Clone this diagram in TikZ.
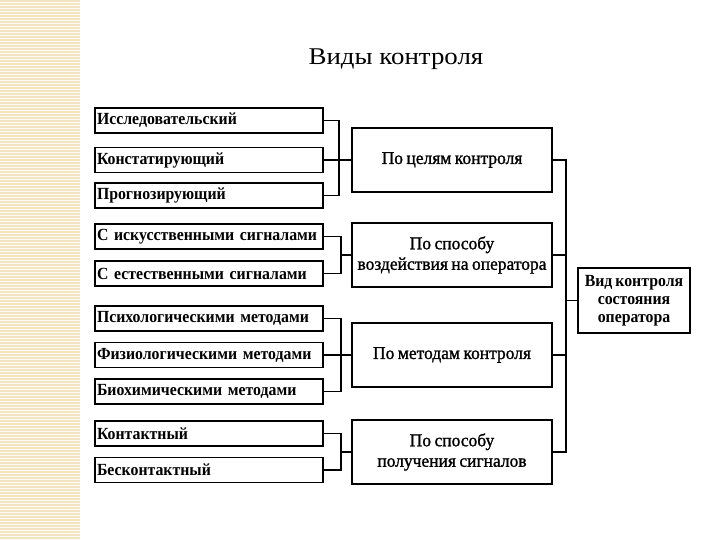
\documentclass[tikz,border=0pt]{standalone}
\usepackage{fontspec}
\setmainfont{Liberation Serif}
\newfontfamily\boxfont{Liberation Serif}[FakeStretch=0.93, WordSpace=0.75]
\newfontfamily\midfont{Liberation Serif}[FakeStretch=0.97, FakeBold=1.2, WordSpace=0.8]
\newfontfamily\titlefont{Liberation Serif}[FakeStretch=1.12]
\usetikzlibrary{patterns}
\definecolor{strip}{HTML}{F2E5C2}
\tikzset{
  leftbox/.style={draw, line width=1.8pt, minimum width=228pt, minimum height=25pt,
    text width=224pt, inner xsep=2pt, align=left, font=\boxfont\bfseries\fontsize{17}{18}\selectfont},
  midbox/.style={draw, line width=1.8pt, minimum width=200pt, minimum height=64pt, inner xsep=1pt,
    align=center, font=\midfont\fontsize{18}{20.5}\selectfont},
  rightbox/.style={draw, line width=1.8pt, minimum width=112pt, minimum height=65pt,
    align=center, inner sep=1pt, font=\boxfont\bfseries\fontsize{17}{18}\selectfont},
  conn/.style={line width=1.3pt}
}
\begin{document}
\begin{tikzpicture}[x=1pt,y=-1pt]
\useasboundingbox (0,0) rectangle (720,540);
\fill[strip] (0,0) rectangle (80,540);
\fill[pattern=horizontal lines, pattern color=white!80!strip] (0,0) rectangle (80,540);
\node (title) at (396,59) {\titlefont\fontsize{24}{26}\selectfont Виды контроля};

\node[leftbox] (L1) at (209,120.5) {Исследовательский};
\node[leftbox] (L2) at (209,160) {Констатирующий};
\node[leftbox] (L3) at (209,195.5) {Прогнозирующий};
\node[leftbox] (L4) at (209,236.5) {С искусственными сигналами};
\node[leftbox] (L5) at (209,273.5) {С естественными сигналами};
\node[leftbox] (L6) at (209,318.5) {Психологическими методами};
\node[leftbox] (L7) at (209,355) {Физиологическими методами};
\node[leftbox] (L8) at (209,391.5) {Биохимическими методами};
\node[leftbox] (L9) at (209,433.5) {Контактный};
\node[leftbox] (L10) at (209,470) {Бесконтактный};

\node[midbox] (M1) at (452,160) {По целям контроля};
\node[midbox] (M2) at (452,255) {По способу\\воздействия на оператора};
\node[midbox] (M3) at (452,355) {По методам контроля};
\node[midbox] (M4) at (452,452) {По способу\\получения сигналов};

\node[rightbox] (R) at (634,300.5) {Вид контроля\\состояния\\оператора};

\coordinate (b1) at (339,160);
\coordinate (b2) at (341,255);
\coordinate (b3) at (341,355);
\coordinate (b4) at (341,452);
\coordinate (br) at (566,300.5);
\coordinate (brt) at (566,160);
\coordinate (brb) at (566,452);

\draw[conn] (L1.east) -| (b1) |- (L3.east);
\draw[conn] (L2.east) -- (M1.west);
\draw[conn] (L4.east) -| (b2) |- (L5.east);
\draw[conn] (b2) -- (M2.west);
\draw[conn] (L6.east) -| (b3) |- (L8.east);
\draw[conn] (L7.east) -- (M3.west);
\draw[conn] (L9.east) -| (b4) |- (L10.east);
\draw[conn] (b4) -- (M4.west);
\draw[conn] (M1.east) -- (brt) -- (brb) -- (M4.east);
\draw[conn] (M2.east) -- (M2.east -| br);
\draw[conn] (M3.east) -- (M3.east -| br);
\draw[conn] (br) -- (R.west);
\end{tikzpicture}
\end{document}
